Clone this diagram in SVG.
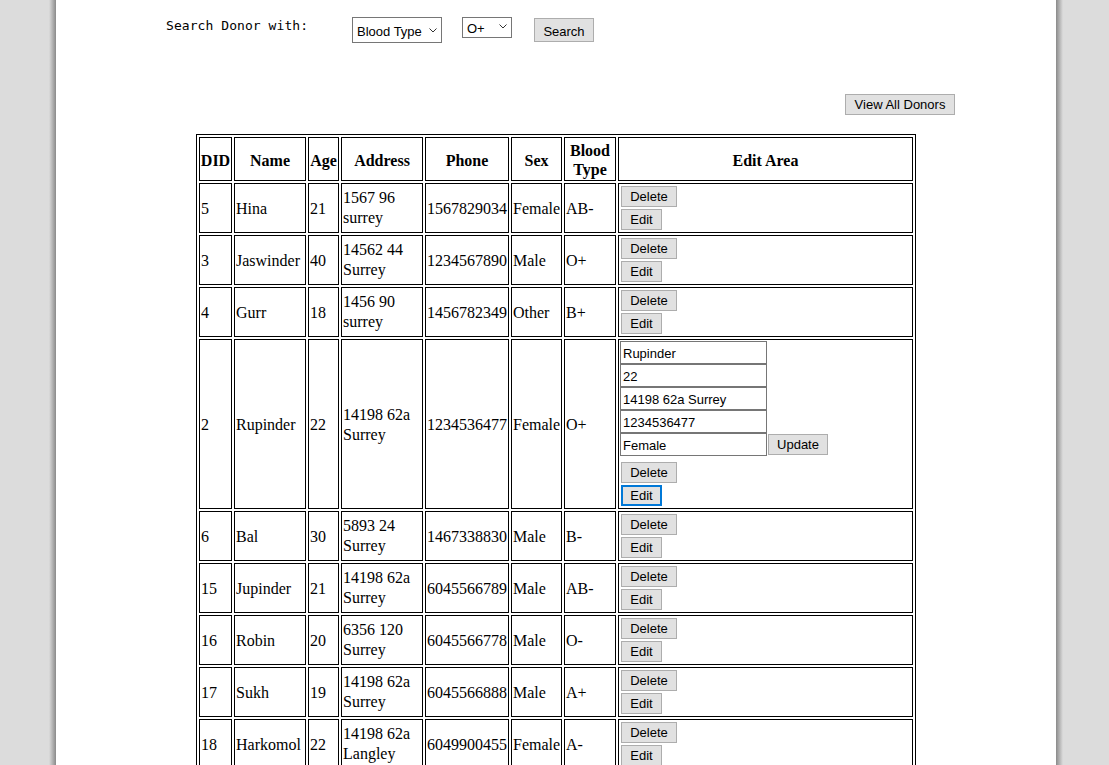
<svg xmlns="http://www.w3.org/2000/svg" xmlns:xlink="http://www.w3.org/1999/xlink" width="1109" height="765" viewBox="0 0 1109 765">
<style>
.cell{fill:#fff;stroke:#000;stroke-width:1}
.t{font-family:"Liberation Serif","Times New Roman",serif;font-size:16px;fill:#000}
.h{font-family:"Liberation Serif","Times New Roman",serif;font-size:16px;font-weight:bold;fill:#000;text-anchor:middle}
.btn{fill:#e1e1e1;stroke:#adadad;stroke-width:1}
.bt{font-family:"Liberation Sans",Arial,sans-serif;font-size:13px;fill:#000;text-anchor:middle}
.ui{font-family:"Liberation Sans",Arial,sans-serif;font-size:13px;fill:#000}
.inp{fill:#fff;stroke:#767676;stroke-width:1}
.chev{fill:none;stroke:#333;stroke-width:1}
</style>
<defs>
<linearGradient id="shL" x1="0" y1="0" x2="1" y2="0">
<stop offset="0" stop-color="#dcdcdc"/><stop offset="1" stop-color="#8a8a8a"/>
</linearGradient>
<linearGradient id="shR" x1="0" y1="0" x2="1" y2="0">
<stop offset="0" stop-color="#8a8a8a"/><stop offset="1" stop-color="#dcdcdc"/>
</linearGradient>
<g id="rowcells">
<rect class="cell" x="199.5" y="0.5" width="32" height="49"/>
<rect class="cell" x="234.5" y="0.5" width="71" height="49"/>
<rect class="cell" x="308.5" y="0.5" width="30" height="49"/>
<rect class="cell" x="341.5" y="0.5" width="81" height="49"/>
<rect class="cell" x="425.5" y="0.5" width="83" height="49"/>
<rect class="cell" x="511.5" y="0.5" width="50" height="49"/>
<rect class="cell" x="564.5" y="0.5" width="51" height="49"/>
<rect class="cell" x="618.5" y="0.5" width="294" height="49"/>
</g>
<g id="btns">
<rect class="btn" x="621.5" y="3.5" width="55" height="20"/>
<text class="bt" x="649" y="18">Delete</text>
<rect class="btn" x="621.5" y="26.5" width="40" height="20"/>
<text class="bt" x="641.5" y="41">Edit</text>
</g>
</defs>

<rect x="0" y="0" width="1109" height="765" fill="#dcdcdc"/>
<rect x="49" y="0" width="7" height="765" fill="url(#shL)"/>
<rect x="1056" y="0" width="7" height="765" fill="url(#shR)"/>
<rect x="56" y="0" width="1000" height="765" fill="#fff"/>

<g id="search-bar">
<text x="166" y="29.5" textLength="142" lengthAdjust="spacing" style="font-family:'DejaVu Sans Mono','Liberation Mono',monospace;font-size:13px;fill:#000">Search Donor with:</text>
<g id="select-field">
<rect class="inp" x="352.5" y="17.5" width="89" height="25"/>
<text class="ui" x="357" y="35.5">Blood Type</text>
<polyline class="chev" points="429.5,28.5 433,32 436.5,28.5"/>
</g>
<g id="select-value">
<rect class="inp" x="462.5" y="17.5" width="49" height="20"/>
<text class="ui" x="467" y="32.5">O+</text>
<polyline class="chev" points="499.5,24.5 503,28 506.5,24.5"/>
</g>
<g id="search-btn">
<rect class="btn" x="534.5" y="18.5" width="59" height="23"/>
<text class="bt" x="564" y="35.5">Search</text>
</g>
</g>

<g id="view-all">
<rect class="btn" x="845.5" y="94.5" width="109" height="20"/>
<text class="bt" x="900" y="109">View All Donors</text>
</g>

<g id="table">
<rect x="196.5" y="134.5" width="719" height="700" fill="none" stroke="#000" stroke-width="1"/>

<g id="header">
<rect class="cell" x="199.5" y="137.5" width="32" height="43"/>
<rect class="cell" x="234.5" y="137.5" width="71" height="43"/>
<rect class="cell" x="308.5" y="137.5" width="30" height="43"/>
<rect class="cell" x="341.5" y="137.5" width="81" height="43"/>
<rect class="cell" x="425.5" y="137.5" width="83" height="43"/>
<rect class="cell" x="511.5" y="137.5" width="50" height="43"/>
<rect class="cell" x="564.5" y="137.5" width="51" height="43"/>
<rect class="cell" x="618.5" y="137.5" width="294" height="43"/>
<text class="h" x="215.5" y="165.5">DID</text>
<text class="h" x="270" y="165.5">Name</text>
<text class="h" x="323.5" y="165.5">Age</text>
<text class="h" x="382" y="165.5">Address</text>
<text class="h" x="467" y="165.5">Phone</text>
<text class="h" x="536.5" y="165.5">Sex</text>
<text class="h" x="590" y="155.5">Blood</text>
<text class="h" x="590" y="175">Type</text>
<text class="h" x="765.5" y="165.5">Edit Area</text>
</g>

<g id="row-5" transform="translate(0,183)">
<use xlink:href="#rowcells"/><use xlink:href="#btns"/>
<text class="t" x="201" y="30.5">5</text>
<text class="t" x="236" y="30.5">Hina</text>
<text class="t" x="310" y="30.5">21</text>
<text class="t" x="343" y="20">1567 96</text>
<text class="t" x="343" y="40">surrey</text>
<text class="t" x="427" y="30.5">1567829034</text>
<text class="t" x="513" y="30.5">Female</text>
<text class="t" x="566" y="30.5">AB-</text>
</g>

<g id="row-3" transform="translate(0,235)">
<use xlink:href="#rowcells"/><use xlink:href="#btns"/>
<text class="t" x="201" y="30.5">3</text>
<text class="t" x="236" y="30.5">Jaswinder</text>
<text class="t" x="310" y="30.5">40</text>
<text class="t" x="343" y="20">14562 44</text>
<text class="t" x="343" y="40">Surrey</text>
<text class="t" x="427" y="30.5">1234567890</text>
<text class="t" x="513" y="30.5">Male</text>
<text class="t" x="566" y="30.5">O+</text>
</g>

<g id="row-4" transform="translate(0,287)">
<use xlink:href="#rowcells"/><use xlink:href="#btns"/>
<text class="t" x="201" y="30.5">4</text>
<text class="t" x="236" y="30.5">Gurr</text>
<text class="t" x="310" y="30.5">18</text>
<text class="t" x="343" y="20">1456 90</text>
<text class="t" x="343" y="40">surrey</text>
<text class="t" x="427" y="30.5">1456782349</text>
<text class="t" x="513" y="30.5">Other</text>
<text class="t" x="566" y="30.5">B+</text>
</g>

<g id="row-2">
<rect class="cell" x="199.5" y="339.5" width="32" height="169"/>
<rect class="cell" x="234.5" y="339.5" width="71" height="169"/>
<rect class="cell" x="308.5" y="339.5" width="30" height="169"/>
<rect class="cell" x="341.5" y="339.5" width="81" height="169"/>
<rect class="cell" x="425.5" y="339.5" width="83" height="169"/>
<rect class="cell" x="511.5" y="339.5" width="50" height="169"/>
<rect class="cell" x="564.5" y="339.5" width="51" height="169"/>
<rect class="cell" x="618.5" y="339.5" width="294" height="169"/>
<text class="t" x="201" y="429.5">2</text>
<text class="t" x="236" y="429.5">Rupinder</text>
<text class="t" x="310" y="429.5">22</text>
<text class="t" x="343" y="419.5">14198 62a</text>
<text class="t" x="343" y="439.5">Surrey</text>
<text class="t" x="427" y="429.5">1234536477</text>
<text class="t" x="513" y="429.5">Female</text>
<text class="t" x="566" y="429.5">O+</text>
<rect class="inp" x="620.5" y="341.5" width="146" height="22"/>
<text class="ui" x="623" y="357.5">Rupinder</text>
<rect class="inp" x="620.5" y="364.5" width="146" height="22"/>
<text class="ui" x="623" y="380.5">22</text>
<rect class="inp" x="620.5" y="387.5" width="146" height="22"/>
<text class="ui" x="623" y="403.5">14198 62a Surrey</text>
<rect class="inp" x="620.5" y="410.5" width="146" height="22"/>
<text class="ui" x="623" y="426.5">1234536477</text>
<rect class="inp" x="620.5" y="433.5" width="146" height="22"/>
<text class="ui" x="623" y="449.5">Female</text>
<rect class="btn" x="768.5" y="434.5" width="59" height="20"/>
<text class="bt" x="798" y="449">Update</text>
<rect class="btn" x="621.5" y="462.5" width="55" height="20"/>
<text class="bt" x="649" y="477">Delete</text>
<rect x="622" y="486" width="39" height="19" fill="#e1e1e1" stroke="#0078d7" stroke-width="2"/>
<text class="bt" x="641.5" y="500">Edit</text>
</g>

<g id="row-6" transform="translate(0,511)">
<use xlink:href="#rowcells"/><use xlink:href="#btns"/>
<text class="t" x="201" y="30.5">6</text>
<text class="t" x="236" y="30.5">Bal</text>
<text class="t" x="310" y="30.5">30</text>
<text class="t" x="343" y="20">5893 24</text>
<text class="t" x="343" y="40">Surrey</text>
<text class="t" x="427" y="30.5">1467338830</text>
<text class="t" x="513" y="30.5">Male</text>
<text class="t" x="566" y="30.5">B-</text>
</g>

<g id="row-15" transform="translate(0,563)">
<use xlink:href="#rowcells"/><use xlink:href="#btns"/>
<text class="t" x="201" y="30.5">15</text>
<text class="t" x="236" y="30.5">Jupinder</text>
<text class="t" x="310" y="30.5">21</text>
<text class="t" x="343" y="20">14198 62a</text>
<text class="t" x="343" y="40">Surrey</text>
<text class="t" x="427" y="30.5">6045566789</text>
<text class="t" x="513" y="30.5">Male</text>
<text class="t" x="566" y="30.5">AB-</text>
</g>

<g id="row-16" transform="translate(0,615)">
<use xlink:href="#rowcells"/><use xlink:href="#btns"/>
<text class="t" x="201" y="30.5">16</text>
<text class="t" x="236" y="30.5">Robin</text>
<text class="t" x="310" y="30.5">20</text>
<text class="t" x="343" y="20">6356 120</text>
<text class="t" x="343" y="40">Surrey</text>
<text class="t" x="427" y="30.5">6045566778</text>
<text class="t" x="513" y="30.5">Male</text>
<text class="t" x="566" y="30.5">O-</text>
</g>

<g id="row-17" transform="translate(0,667)">
<use xlink:href="#rowcells"/><use xlink:href="#btns"/>
<text class="t" x="201" y="30.5">17</text>
<text class="t" x="236" y="30.5">Sukh</text>
<text class="t" x="310" y="30.5">19</text>
<text class="t" x="343" y="20">14198 62a</text>
<text class="t" x="343" y="40">Surrey</text>
<text class="t" x="427" y="30.5">6045566888</text>
<text class="t" x="513" y="30.5">Male</text>
<text class="t" x="566" y="30.5">A+</text>
</g>

<g id="row-18" transform="translate(0,719)">
<use xlink:href="#rowcells"/><use xlink:href="#btns"/>
<text class="t" x="201" y="30.5">18</text>
<text class="t" x="236" y="30.5">Harkomol</text>
<text class="t" x="310" y="30.5">22</text>
<text class="t" x="343" y="20">14198 62a</text>
<text class="t" x="343" y="40">Langley</text>
<text class="t" x="427" y="30.5">6049900455</text>
<text class="t" x="513" y="30.5">Female</text>
<text class="t" x="566" y="30.5">A-</text>
</g>
</g>
<g id="connectors"/>
</svg>
